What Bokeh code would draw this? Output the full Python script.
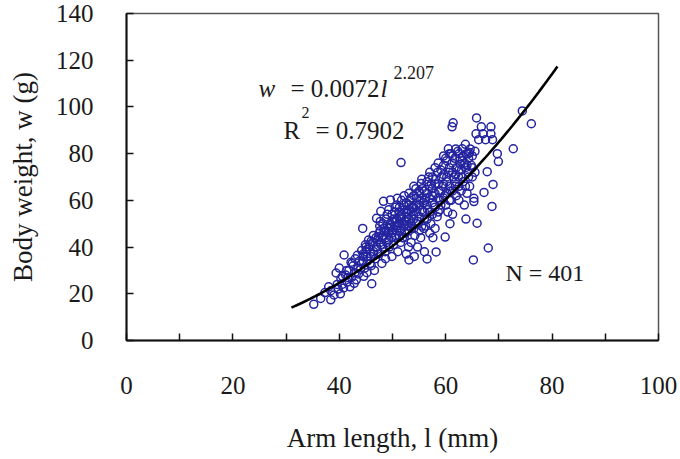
import numpy as np
from bokeh.plotting import figure
from bokeh.models import Range1d, FixedTicker, Label, ColumnDataSource
from bokeh.embed import file_html
from bokeh.resources import INLINE

# ---------------- data ----------------
arm_length_mm = [
    35.2, 36.5, 37.3, 38.4, 38.4, 38.0,
    39.4, 39.0, 39.8, 40.2, 40.5, 40.9, 40.3, 40.8, 41.2, 41.5, 40.0,
    41.8, 42.0, 42.3, 42.6, 42.9, 43.2, 43.5, 43.8, 43.0, 42.2, 41.6, 43.6, 44.0, 42.8,
    44.4, 44.2, 44.5, 44.8, 45.0, 45.3, 45.6, 45.9, 46.1, 46.3, 46.5, 46.8, 45.2, 44.6, 46.0, 46.9, 45.5, 47.0, 44.9, 46.6,
    47.0, 47.8, 47.3, 47.5, 47.8, 48.1, 48.4, 48.6, 48.9, 49.2, 49.5, 49.8, 48.0, 48.7, 49.0, 49.4, 47.6, 48.3, 49.6, 50.0, 49.9,
    50.9, 50.3, 50.6, 50.9, 51.2, 51.5, 51.8, 52.1, 52.4, 52.7, 53.0, 53.1, 51.0, 51.6, 52.2, 50.5, 51.4, 52.9, 52.6, 50.2, 51.9, 53.0, 52.3,
    53.3, 53.6, 53.9, 54.2, 54.5, 54.8, 55.1, 55.4, 55.7, 55.9, 53.5, 54.0, 54.7, 55.3, 55.8, 56.0, 54.4, 53.8, 55.0, 56.0, 54.1, 55.6,
    56.5, 58.2, 56.3, 56.6, 56.9, 57.2, 57.5, 57.8, 58.1, 58.4, 58.7, 59.0, 57.0, 57.6, 58.0, 58.9, 56.8, 57.3, 59.2, 58.5, 56.2, 59.5, 59.8,
    59.9, 60.5, 61.4, 61.2, 60.2, 60.6, 60.9, 61.2, 61.5, 61.8, 62.0, 60.0, 60.4, 61.0, 61.7, 60.8, 61.3, 62.0, 59.6,
    63.1, 62.4, 62.7, 63.0, 63.3, 63.6, 63.9, 64.2, 64.5, 64.8, 62.5, 63.5, 64.0, 62.9, 64.3, 65.0, 65.2, 64.6, 63.8,
    65.8, 66.7, 68.5, 65.7, 67.0, 68.5, 66.2, 67.5, 68.8, 72.7, 69.7, 69.9, 67.8, 68.9, 67.2, 68.7, 65.9, 68.0, 65.3, 65.3,
    74.4, 76.1,
    60.0, 61.0, 62.3, 63.3, 64.5, 64.0, 62.8,
    44.5, 44.5, 45.2, 45.2, 45.8, 45.8, 46.4, 46.4, 47.1, 47.1, 47.7, 47.7, 47.7,
    48.2, 48.2, 48.2, 48.8, 48.8, 48.8, 49.3, 49.3, 49.3, 49.9, 49.9, 49.9, 50.4, 50.4, 50.4,
    50.8, 50.8, 50.8, 51.3, 51.3, 51.3, 51.3, 51.7, 51.7, 51.7, 52.2, 52.2, 52.2, 52.6, 52.6, 52.6,
    53.1, 53.1, 53.1, 53.1, 53.5, 53.5, 53.5, 54.0, 54.0, 54.0, 54.0, 54.5, 54.5, 54.5,
    55.0, 55.0, 55.0, 55.5, 55.5, 55.5, 55.5, 56.0, 56.0, 56.0, 56.5, 56.5, 56.5, 56.5,
    57.0, 57.0, 57.0, 57.5, 57.5, 57.5, 57.5, 58.0, 58.0, 58.0, 58.0, 58.6, 58.6, 58.6, 58.6,
    59.1, 59.1, 59.1, 59.6, 59.6, 59.6, 59.6, 60.2, 60.2, 60.2, 60.7, 60.7, 60.7, 60.7,
    61.3, 61.3, 61.3, 61.9, 61.9, 61.9, 62.5, 62.5, 62.5, 63.1, 63.1, 63.7, 63.7, 63.7,
    64.3, 64.3, 65.0, 65.0, 65.5, 65.5,
    39.6, 40.6, 41.4, 42.4, 43.4, 44.2, 45.0, 46.0, 47.4, 48.4, 49.6, 50.6, 51.6, 52.8, 53.8, 55.2,
]
body_weight_g = [
    15.5, 18.0, 20.5, 17.4, 21.3, 23.0,
    28.9, 19.5, 22.0, 20.0, 24.0, 36.6, 26.5, 22.5, 28.0, 25.0, 31.0,
    30.0, 23.0, 27.0, 32.0, 29.0, 26.0, 31.0, 34.0, 35.0, 33.5, 27.0, 28.5, 30.5, 24.5,
    48.0, 33.0, 36.0, 31.0, 38.0, 34.0, 40.0, 36.0, 24.3, 42.0, 38.0, 35.0, 29.0, 27.5, 32.0, 44.0, 43.0, 40.0, 41.0, 30.0,
    52.3, 55.3, 37.0, 46.0, 41.0, 44.0, 48.0, 38.0, 42.0, 46.0, 50.0, 44.0, 33.0, 35.0, 54.0, 40.0, 49.0, 59.6, 60.2, 47.0, 36.0,
    60.9, 52.0, 45.0, 49.0, 55.0, 42.0, 50.0, 58.0, 46.0, 53.0, 40.0, 34.5, 38.0, 76.2, 62.0, 57.0, 47.0, 49.0, 37.0, 41.0, 44.0, 56.0, 51.0,
    60.0, 48.0, 54.0, 45.0, 58.0, 51.0, 63.0, 67.2, 55.0, 48.0, 42.0, 62.0, 40.0, 44.0, 59.0, 52.0, 65.0, 57.0, 47.0, 38.0, 36.0, 65.0,
    34.9, 37.9, 61.0, 56.0, 66.0, 50.0, 62.0, 58.0, 69.0, 53.0, 64.0, 60.0, 46.0, 44.0, 48.0, 56.0, 70.0, 67.0, 70.0, 72.0, 49.0, 66.0, 62.0,
    44.3, 82.1, 93.2, 91.5, 68.0, 72.0, 64.0, 76.0, 70.0, 66.0, 74.0, 58.0, 55.0, 60.0, 78.0, 50.0, 54.0, 62.0, 75.0,
    82.1, 70.0, 78.0, 73.0, 68.0, 76.0, 80.0, 72.0, 66.0, 75.0, 60.0, 58.0, 63.0, 64.0, 78.0, 70.0, 34.5, 82.0, 52.0,
    95.3, 91.5, 91.5, 88.5, 88.5, 88.5, 86.0, 86.0, 86.0, 82.1, 80.0, 76.6, 72.3, 66.8, 63.4, 57.4, 50.2, 39.6, 60.9, 59.5,
    98.3, 92.8,
    78.0, 80.0, 81.0, 79.0, 80.5, 75.0, 75.5,
    34.0, 37.0, 36.0, 39.0, 33.0, 41.0, 37.0, 45.0, 39.0, 43.0, 42.0, 47.0, 51.0,
    40.0, 45.0, 50.0, 44.0, 47.0, 52.0, 43.0, 48.0, 56.0, 46.0, 51.0, 54.0, 44.0, 49.0, 55.0,
    47.0, 52.0, 58.0, 45.0, 50.0, 53.0, 57.0, 48.0, 54.0, 60.0, 44.0, 49.0, 56.0, 51.0, 55.0, 59.0,
    47.0, 52.0, 58.0, 63.0, 50.0, 55.0, 61.0, 48.0, 52.0, 57.0, 66.0, 50.0, 55.0, 61.0,
    53.0, 58.0, 64.0, 49.0, 56.0, 61.0, 69.0, 55.0, 60.0, 64.0, 52.0, 58.0, 63.0, 68.0,
    55.0, 61.0, 72.0, 54.0, 59.0, 65.0, 70.0, 57.0, 63.0, 67.0, 74.0, 55.0, 61.0, 67.0, 76.0,
    58.0, 64.0, 73.0, 61.0, 67.0, 71.0, 79.0, 63.0, 70.0, 77.0, 60.0, 66.0, 74.0, 80.0,
    64.0, 72.0, 79.0, 68.0, 71.0, 82.0, 66.0, 73.0, 80.0, 70.0, 77.0, 66.0, 74.0, 84.0,
    70.0, 80.0, 74.0, 79.0, 72.0, 81.0,
    24.0, 27.5, 30.0, 33.0, 36.5, 38.5, 40.0, 42.5, 44.5, 46.5, 48.5, 51.0, 52.5, 54.5, 56.5, 60.0,
]

# power-law trend line shown on the chart: w = a * l^b
fit_a = 0.0072
fit_b = 2.207
fit_l_start = 31
fit_l_end = 81
r_squared = "0.7902"
n_label = "N = 401"

x_ticks = [0, 20, 40, 60, 80, 100]
x_minor_ticks = [10, 30, 50, 70, 90]
y_ticks = [0, 20, 40, 60, 80, 100, 120, 140]
x_title = "Arm length, l (mm)"
y_title = "Body weight, w (g)"

# ---------------- figure ----------------
FONT = "'Liberation Serif', 'Times New Roman', serif"
TXT = "#1a1a1a"
W, H = 680, 459
ML, MR, MT, MB = 126, 22, 13, 119

p = figure(width=W, height=H, x_range=Range1d(0, 100), y_range=Range1d(0, 140),
           output_backend="svg", toolbar_location=None,
           min_border_left=ML, min_border_right=MR, min_border_top=MT, min_border_bottom=MB)
p.background_fill_color = "white"
p.border_fill_color = "white"
p.grid.visible = False
p.outline_line_color = "#555555"
p.outline_line_width = 1.5

SX = (W - ML - MR) / 100.0
SY = (H - MT - MB) / 140.0


def dx(px):
    return (px - ML) / SX


def dy(py):
    return ((H - MB) - py) / SY


src = ColumnDataSource(data=dict(l=arm_length_mm, w=body_weight_g))
p.scatter("l", "w", source=src, marker="circle", size=8, fill_color=None,
          line_color="#2424a0", line_width=1.5)

fit_l = np.arange(fit_l_start, fit_l_end + 0.5, 0.5)
fit_w = fit_a * fit_l ** fit_b
p.line(fit_l, fit_w, line_color="black", line_width=2.6)

for ax in (p.xaxis[0], p.yaxis[0]):
    ax.axis_line_width = 2
    ax.axis_line_color = "#111111"
    ax.major_tick_in = 7
    ax.major_tick_out = 0
    ax.major_tick_line_width = 1.5
    ax.major_tick_line_color = "#111111"
    ax.minor_tick_in = 7
    ax.minor_tick_out = 0
    ax.minor_tick_line_width = 1.5
    ax.minor_tick_line_color = "#111111"
    ax.major_label_text_font = FONT
    ax.major_label_text_font_size = "25px"
    ax.major_label_text_color = TXT
    ax.axis_label_text_font = FONT
    ax.axis_label_text_font_size = "27px"
    ax.axis_label_text_font_style = "normal"
    ax.axis_label_text_color = TXT

p.xaxis.ticker = FixedTicker(ticks=x_ticks, minor_ticks=x_minor_ticks)
p.yaxis.ticker = FixedTicker(ticks=y_ticks, minor_ticks=[])
p.xaxis.major_label_standoff = 36
p.yaxis.major_label_standoff = 33
p.xaxis.axis_label = x_title
p.yaxis.axis_label = y_title
p.xaxis.axis_label_standoff = 26
p.yaxis.axis_label_standoff = 15


def lab(px, py, text, size, italic=False):
    p.add_layout(Label(x=dx(px), y=dy(py), text=text, text_font=FONT,
                       text_font_size=size, text_color=TXT,
                       text_font_style="italic" if italic else "normal",
                       text_align="left", text_baseline="alphabetic"))


# equation
lab(258, 88, "w", "25px", italic=True)
lab(290, 88, "= 0.0072", "25px")
lab(380, 88, "l", "25px", italic=True)
lab(393, 72, f"{fit_b}", "18px")
lab(283, 130, "R", "25px")
lab(301, 112, "2", "16px")
lab(315, 130, f"= {r_squared}", "25px")
lab(505, 272, n_label, "24px")

open("out.html", "w").write(file_html(p, INLINE))
